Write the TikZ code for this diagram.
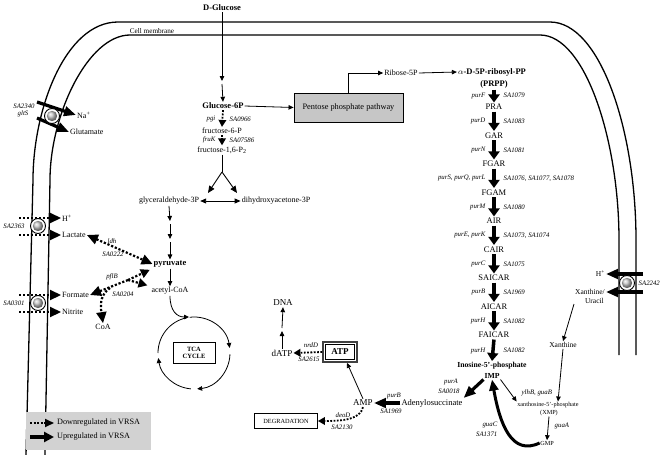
\documentclass[tikz,border=0pt]{standalone}
\usepackage{fontspec}
\setmainfont{Liberation Serif}
\usetikzlibrary{arrows.meta,calc}
\tikzset{
 txt/.style={font=\fontsize{8}{9.5}\selectfont, inner sep=1pt},
 txtc/.style={font=\fontsize{8.5}{10}\selectfont, inner sep=1pt},
 txtb/.style={font=\fontsize{8.5}{10}\selectfont\bfseries, inner sep=1pt},
 txti/.style={font=\fontsize{7.7}{9}\selectfont\bfseries, inner sep=0.8pt},
 txtn/.style={font=\fontsize{9}{10}\selectfont, inner sep=1pt},
 txts/.style={font=\fontsize{6.2}{7}\selectfont, inner sep=0.5pt},
 txtm/.style={font=\fontsize{7.5}{8.5}\selectfont, inner sep=1pt},
 txtl/.style={font=\fontsize{8.2}{9}\selectfont, inner sep=1pt},
 gene/.style={font=\fontsize{6.8}{7.5}\selectfont\itshape, inner sep=0.5pt},
 arr/.style={line width=0.8pt, -{Triangle[length=5pt,width=4.5pt]}},
 arrb/.style={line width=0.9pt, -{Triangle[length=7pt,width=6pt]}},
 downa/.style={line width=2.2pt, dash pattern=on 2.2pt off 1.8pt, -{Triangle[length=11pt,width=10pt]}},
 downs/.style={line width=1.8pt, dash pattern=on 1.8pt off 1.5pt, -{Triangle[length=7pt,width=7.5pt]}},
 upa/.style={line width=3.2pt, -{Triangle[length=12pt,width=9.5pt]}},
 chainar/.style={line width=3.5pt, -{Triangle[length=8pt,width=11pt]}, shorten <=0.5pt, shorten >=0.5pt},
 mem/.style={line width=1.3pt},
 transp/.pic={\fill[white,draw=black,line width=0.9pt] (0,0) circle (7.5); \shade[ball color=gray!45] (0,0) circle (5.2);}
}
\begin{document}
\begin{tikzpicture}[x=1pt,y=-1pt]
\useasboundingbox (0,0) rectangle (662,455);
% membrane
\draw[mem] (26,455) -- (33,180) .. controls (33,110) and (65,22) .. (118,22) -- (550,22) .. controls (600,22) and (636,130) .. (636,240) -- (636,355);
\draw[mem] (45,455) -- (50,180) .. controls (50,115) and (88,35) .. (130,35) -- (540,35) .. controls (585,35) and (619,140) .. (619,240) -- (619,355);
\node[font=\fontsize{7.2}{8}\selectfont, anchor=south, inner sep=0.5pt] (cm) at (152,34) {Cell membrane};

% glycolysis
\node[txtb] (dglc) at (222,8) {D-Glucose};
\coordinate (gm1) at (222,81);
\coordinate (gm2) at (222,84);
\node[txtb] (g6p) at (223,106) {Glucose-6P};
\draw[arr] (dglc.south) -- (gm1);
\draw[arr] (gm2) -- (g6p.north);
\node[txt] (f6p) at (222,131) {fructose-6-P};
\node[txt] (f16) at (222,150) {fructose-1,6-P\textsubscript{2}};
\draw[downs] (g6p.south) -- (f6p.north);
\draw[downs] (f6p.south) -- (f16.north);
\node[gene, anchor=east] (gpgi) at (216,119) {pgi};
\node[gene, anchor=west] (g0966) at (229,119) {SA0966};
\node[gene, anchor=east] (gfruk) at (216,140) {fruK};
\node[gene, anchor=west] (g0758) at (229,140) {SA07586};
\coordinate (spl) at (222,172);
\coordinate (gtip) at (208,193);
\coordinate (dtip) at (237,193);
\draw[line width=0.9pt] (f16.south) -- (spl);
\draw[arrb] (spl) -- (gtip);
\draw[arrb] (spl) -- (dtip);
\node[txt] (gap) at (169,201) {glyceraldehyde-3P};
\node[txt] (dhap) at (276,201) {dihydroxyacetone-3P};
\draw[line width=0.9pt, {Triangle[length=6pt,width=5pt]}-{Triangle[length=6pt,width=5pt]}] (gap.east) -- (dhap.west);
\coordinate (g1) at (170,221);
\coordinate (g2) at (170,224);
\coordinate (g3) at (170,239);
\coordinate (g4) at (170,242);
\node[txtb] (pyr) at (170,264) {pyruvate};
\node[txt] (acoa) at (170,291) {acetyl-CoA};
\draw[arr] (gap.south) -- (g1);
\draw[arr] (g2) -- (g3);
\draw[arr] (g4) -- (pyr.north);
\draw[arr] (pyr.south) -- (acoa.north);

% TCA
\coordinate (tcac) at (194,353);
\node[draw, line width=0.8pt, font=\fontsize{6.5}{7}\selectfont\bfseries, align=center, minimum width=42pt, minimum height=21pt, inner sep=1pt] (tca) at (194,353) {TCA\\CYCLE};
\coordinate (tcain) at (189,317);
\draw[arr] (acoa.south) .. controls (170,311) and (177,317) .. (tcain);
\draw[line width=0.8pt] ([shift={(180:36)}]tcac) arc[start angle=180, end angle=258, radius=36];
\draw[arr] ([shift={(263:36)}]tcac) arc[start angle=263, end angle=352, radius=36];
\draw[arr] ([shift={(2:36)}]tcac) arc[start angle=2, end angle=85, radius=36];
\draw[arr] ([shift={(95:36)}]tcac) arc[start angle=95, end angle=172, radius=36];

% left transporters
\node[gene] (l2340) at (24,106) {SA2340};
\node[gene] (lglts) at (23,114) {gltS};
\node[txt, anchor=west] (na) at (76,115) {Na\textsuperscript{+}};
\node[txt, anchor=west] (glu) at (69,132) {Glutamate};
\coordinate (a1s) at (37,102);
\coordinate (a2s) at (37,118);
\draw[upa] (a1s) -- (na.west);
\draw[upa] (a2s) -- (glu.west);
\pic at (52,116) {transp};

\node[gene] (l2363) at (14,226) {SA2363};
\node[txt, anchor=west] (hl) at (61,218) {H\textsuperscript{+}};
\node[txt, anchor=west] (lac) at (61,235) {Lactate};
\coordinate (h1s) at (19,218);
\coordinate (lacs) at (19,235);
\draw[downa] (h1s) -- (hl.west);
\draw[downa] (lacs) -- (lac.west);
\pic at (38,226) {transp};

\node[gene] (l0301) at (14,303) {SA0301};
\node[txt, anchor=west] (form) at (61,295) {Formate};
\node[txt, anchor=west] (nit) at (61,312) {Nitrite};
\coordinate (fos) at (19,295);
\coordinate (nis) at (19,312);
\draw[downa] (fos) -- (form.west);
\draw[downa] (nis) -- (nit.west);
\pic at (38,303) {transp};

% lactate / formate
\draw[downa, {Triangle[length=11pt,width=10pt]}-{Triangle[length=11pt,width=10pt]}] (lac.east) -- (pyr.west);
\node[gene] (gldh) at (112,241) {ldh};
\node[gene] (g0222) at (113,254) {SA0222};
\coordinate (pj) at (128,280);
\coordinate (cb) at (110,288);
\node[txt] (coa) at (103,327) {CoA};
\draw[downa] (pj) -- (form.east);
\draw[downa, -{Triangle[length=9pt,width=9pt]}, shorten >=3pt] (pj) -- (pyr.south west);
\draw[downa, -{Triangle[length=9pt,width=9pt]}, shorten >=3pt] (pj) -- (acoa.north west);
\draw[downa] (cb) .. controls (101,294) and (100,303) .. (coa.north);
\node[gene] (gpfl) at (112,277) {pflB};
\node[gene] (g0204) at (123,294) {SA0204};

% ATP area
\node[txtn] (dna) at (283,303) {DNA};
\node[txtn] (datp) at (282,353) {dATP};
\coordinate (dn1) at (282,331);
\coordinate (dn2) at (282,328);
\draw[arr] (datp.north) -- (dn1);
\draw[arr] (dn2) -- (dna.south);
\node[draw, line width=0.7pt, font=\fontsize{9}{10}\selectfont\bfseries, minimum width=29pt, minimum height=15pt, inner sep=1pt] (atp) at (340,352) {ATP};
\draw[line width=1.3pt, draw=black!75] ($(atp.north west)+(-2.2,-2.2)$) rectangle ($(atp.south east)+(2.2,2.2)$);
\coordinate (atpw) at ($(atp.west)+(-3,0)$);
\draw[downs] (atpw) -- (datp.east);
\node[gene] (gnrd) at (311,345) {nrdD};
\node[gene] (g2615) at (309,359) {SA2615};
\node[txtn] (amp) at (363,403) {AMP};
\draw[arr] (amp.north) -- ($(atp.south)+(7,3)$);
\node[txtc] (ads) at (432,403) {Adenylosuccinate};
\draw[upa] (ads.west) -- (amp.east);
\node[gene] (gpurb2) at (394,396) {purB};
\node[gene] (g1969b) at (391,411) {SA1969};
\node[draw, line width=0.8pt, font=\fontsize{6.3}{7}\selectfont, minimum width=63pt, minimum height=15pt, inner sep=1pt] (deg) at (286,421) {DEGRADATION};
\draw[downs] (amp.south) .. controls (360,419) and (345,421) .. (deg.east);
\node[gene] (gdeo) at (343,415) {deoD};
\node[gene] (g2130) at (342,427) {SA2130};

% Pentose / PRPP
\node[draw, line width=0.9pt, fill=gray!45, minimum width=109pt, minimum height=29pt, font=\fontsize{8.3}{10}\selectfont, inner sep=1pt] (pent) at (348.5,107.5) {Pentose phosphate pathway};
\draw[arr] (g6p.east) -- (pent.west);
\node[txt] (rib) at (401,73) {Ribose-5P};
\draw[arr] (pent.north) |- (rib.west);
\node[txtb] (adp) at (492,72) {$\alpha$-D-5P-ribosyl-PP};
\draw[arr] (rib.east) -- (adp.west);
\node[txtb] (prpp) at (494,84) {(PRPP)};
\node[txtc] (pra) at (494,107) {PRA};
\node[txtc] (gar) at (494,135.5) {GAR};
\node[txtc] (fgar) at (494,164) {FGAR};
\node[txtc] (fgam) at (494,192.5) {FGAM};
\node[txtc] (air) at (494,221) {AIR};
\node[txtc] (cair) at (494,249.5) {CAIR};
\node[txtc] (saicar) at (494,278) {SAICAR};
\node[txtc] (aicar) at (494,306.5) {AICAR};
\node[txtc] (faicar) at (494,335) {FAICAR};
\node[txti] (ino) at (492,366) {Inosine-5'-phosphate};
\node[txti] (imp) at (492,376) {IMP};
\draw[chainar] (prpp.south) -- (pra.north);
\draw[chainar] (pra.south) -- (gar.north);
\draw[chainar] (gar.south) -- (fgar.north);
\draw[chainar] (fgar.south) -- (fgam.north);
\draw[chainar] (fgam.south) -- (air.north);
\draw[chainar] (air.south) -- (cair.north);
\draw[chainar] (cair.south) -- (saicar.north);
\draw[chainar] (saicar.south) -- (aicar.north);
\draw[chainar] (aicar.south) -- (faicar.north);
\draw[chainar] (faicar.south) -- (ino.north);
\node[gene, anchor=east] (c1l) at (486,95.5) {purF};
\node[gene, anchor=west] (c1r) at (503,95.5) {SA1079};
\node[gene, anchor=east] (c2l) at (486,121.3) {purD};
\node[gene, anchor=west] (c2r) at (503,121.3) {SA1083};
\node[gene, anchor=east] (c3l) at (486,149.8) {purN};
\node[gene, anchor=west] (c3r) at (503,149.8) {SA1081};
\node[gene, anchor=east] (c4l) at (486,178.3) {purS, purQ, purL};
\node[gene, anchor=west] (c4r) at (503,178.3) {SA1076, SA1077, SA1078};
\node[gene, anchor=east] (c5l) at (486,206.8) {purM};
\node[gene, anchor=west] (c5r) at (503,206.8) {SA1080};
\node[gene, anchor=east] (c6l) at (486,235.3) {purE, purK};
\node[gene, anchor=west] (c6r) at (503,235.3) {SA1073, SA1074};
\node[gene, anchor=east] (c7l) at (486,263.8) {purC};
\node[gene, anchor=west] (c7r) at (503,263.8) {SA1075};
\node[gene, anchor=east] (c8l) at (486,292.3) {purB};
\node[gene, anchor=west] (c8r) at (503,292.3) {SA1969};
\node[gene, anchor=east] (c9l) at (486,320.8) {purH};
\node[gene, anchor=west] (c9r) at (503,320.8) {SA1082};
\node[gene, anchor=east] (c10l) at (486,350.5) {purH};
\node[gene, anchor=west] (c10r) at (503,350.5) {SA1082};

% IMP branches
\draw[upa] (imp.south west) -- (ads.north east);
\node[gene] (gpura) at (451,382) {purA};
\node[gene] (g0018) at (449,391) {SA0018};
\node[txts] (xsp) at (548,405) {xanthosine-5'-phosphate};
\node[txts] (xmp) at (549,413) {(XMP)};
\node[txts] (gmp) at (547,443) {GMP};
\draw[arr] (imp.south east) -- (xsp.north west);
\node[gene, anchor=west] (gylhb) at (521,393) {ylhB, guaB};
\draw[arr] (xmp.south) -- (gmp.north);
\node[gene, anchor=west] (gguaa) at (554,426) {guaA};
\draw[line width=3pt, -{Triangle[length=11pt,width=9pt]}] (gmp.west) .. controls (512,456) and (500,425) .. (imp.south);
\node[gene, anchor=east] (gguac) at (498,425) {guaC};
\node[gene, anchor=east] (g1371) at (498,434) {SA1371};

% right transporter
\node[txtm, anchor=east] (hr) at (606,274) {H\textsuperscript{+}};
\node[txtm, anchor=east] (xu1) at (606,292) {Xanthine/};
\node[txtm, anchor=east] (xu2) at (605,301) {Uracil};
\coordinate (hrs) at (643,274);
\coordinate (xus) at (643,292);
\draw[upa] (hrs) -- (hr.east);
\draw[upa] (xus) -- (xu1.east);
\pic at (627,283) {transp};
\node[gene, anchor=west] (g2242) at (638,283) {SA2242};
\node[txtm] (xan) at (563,345) {Xanthine};
\coordinate (xas) at (574,304);
\draw[arr] (xas) -- (xan.north);
\draw[arr] (xan.south) -- ($(xsp.north)+(10,0)$);

% legend
\node[fill=gray!35, minimum width=125pt, minimum height=38pt, inner sep=0pt] (leg) at (88,431) {};
\coordinate (lg1a) at (30,423);
\coordinate (lg1b) at (54,423);
\coordinate (lg2a) at (30,437);
\coordinate (lg2b) at (54,437);
\draw[line width=2pt, dash pattern=on 2pt off 1.6pt, -{Triangle[length=9pt,width=8pt]}] (lg1a) -- (lg1b);
\draw[line width=3.5pt, -{Triangle[length=10pt,width=10pt]}] (lg2a) -- (lg2b);
\node[txtl, anchor=west] (lgt1) at (56,423) {Downregulated in VRSA};
\node[txtl, anchor=west] (lgt2) at (56,437) {Upregulated in VRSA};
\end{tikzpicture}
\end{document}
